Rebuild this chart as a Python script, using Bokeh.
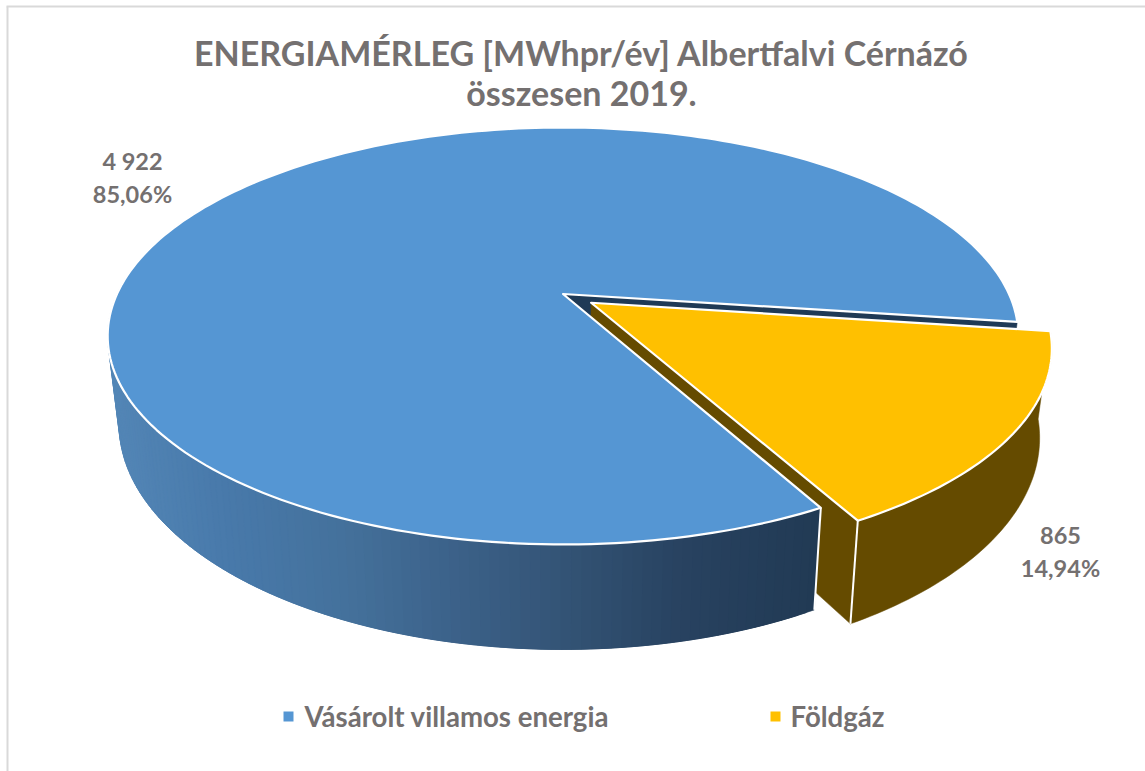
from math import sin, cos, radians
from bokeh.plotting import figure
from bokeh.models import Range1d
from bokeh.core.properties import value
from bokeh.embed import file_html
from bokeh.resources import INLINE

categories = ["Vásárolt villamos energia", "Földgáz"]
values = [4922, 865]
value_labels = ["4 922\n85,06%", "865\n14,94%"]
title_lines = ["ENERGIAMÉRLEG [MWhpr/év] Albertfalvi Cérnázó", "összesen 2019."]

BLUE, YELLOW = "#5596d3", "#ffc000"
OLIVE, NAVY = "#654b00", "#1f3a56"
SIDE_STOPS = [(107, (84, 135, 183)), (233, (72, 121, 170)), (350, (68, 113, 155)),
              (450, (60, 98, 138)), (560, (52, 84, 118)), (680, (40, 66, 96)),
              (815, (33, 58, 84))]
TEXT = "#747070"
FONT = value("Lato")

W, H = 1145, 771
p = figure(width=W, height=H, output_backend="svg", toolbar_location=None,
           x_range=Range1d(0, W), y_range=Range1d(H, 0),
           min_border=0, outline_line_color=None)
p.axis.visible = False
p.grid.visible = False

# perspective model of the pie disc
X0, Y0, A, B, K = 562.5, 293.5, 446.0, 200.0, 0.2014
SX, SY, Y1 = 0.975, 1.08, 378.5
START = 151.6
EXPLODE = 0.076


def proj(theta, r=1.0, off=(0.0, 0.0), bottom=False):
    u = r * sin(radians(theta)) + off[0]
    v = r * cos(radians(theta)) + off[1]
    d = 1 + K * v
    x, y = A * u / d, -B * v / d
    if bottom:
        return X0 + SX * x, Y1 + SY * y
    return X0 + x, Y0 + y


def arc(a0, a1, n, **kw):
    return [proj(a0 + (a1 - a0) * i / n, **kw) for i in range(n + 1)]


def shade(x):
    for (x0, c0), (x1, c1) in zip(SIDE_STOPS, SIDE_STOPS[1:]):
        if x <= x1:
            t = max(0.0, (x - x0) / (x1 - x0))
            return tuple(int(round(a + (b - a) * t)) for a, b in zip(c0, c1))
    return SIDE_STOPS[-1][1]


def poly(pts, fill, line=None, lw=2.0):
    p.patch([q[0] for q in pts], [q[1] for q in pts], fill_color=fill,
            line_color=line if line else fill, line_width=lw if line else 0.5,
            line_join="round")


def edge(a, b, color="white", lw=2.0):
    p.line([a[0], b[0]], [a[1], b[1]], line_color=color, line_width=lw)


total = sum(values)
span_blue = 360.0 * values[0] / total
a0 = START
a1 = START + span_blue          # end of the blue slice, clockwise
yel0, yel1 = a1 - 360.0, START
mid = (yel0 + yel1) / 2
off = (EXPLODE * sin(radians(mid)), EXPLODE * cos(radians(mid)))

# blue inner wall, seen through the gap
c_t, c_b = proj(0, r=0), proj(0, r=0, bottom=True)
end_t, end_b = proj(a1), proj(a1, bottom=True)
poly([c_t, end_t, end_b, c_b], NAVY)

# yellow rim and wall
ya, yb = arc(yel0, yel1, 60, off=off), arc(yel0, yel1, 60, off=off, bottom=True)
poly(ya + yb[::-1], OLIVE)
yc_t, yc_b = proj(0, r=0, off=off), proj(0, r=0, off=off, bottom=True)
corner_t, corner_b = proj(yel1, off=off), proj(yel1, off=off, bottom=True)
poly([yc_t, corner_t, corner_b, yc_b], OLIVE)
edge(corner_t, corner_b)

# blue rim, drawn as shaded strips; each strip runs under the next one to hide seams
n = 140
for i in range(n):
    t0 = a0 + (300 - a0) * i / n
    t1 = a0 + (300 - a0) * (i + 3) / n
    tm = a0 + (300 - a0) * (i + 0.5) / n
    q = [proj(t0), proj(t1), proj(t1, bottom=True), proj(t0, bottom=True)]
    r, g, b = shade(proj(tm, bottom=True)[0])
    poly(q, f"#{r:02x}{g:02x}{b:02x}")
edge(proj(a0), proj(a0, bottom=True))

# top faces
poly([c_t] + arc(a0, a1, 240), BLUE, "white", 2.2)
poly([yc_t] + ya, YELLOW, "white", 2.2)

# frame
p.line([7, 7], [6, 771], line_color="#d9d9d9", line_width=2)
p.line([6, 1145], [6, 6], line_color="#d9d9d9", line_width=2)


def txt(x, y, s, size, align="center"):
    p.text([x], [y], text=[s], text_font=FONT, text_font_style="bold",
           text_font_size=size, text_color=TEXT, text_align=align,
           text_baseline="middle")


txt(581, 51.5, title_lines[0], "34px")
txt(581, 92, title_lines[1], "34px")

for lab, (x, y0) in zip(value_labels, [(132, 160.5), (1060, 534.5)]):
    for i, s in enumerate(lab.split("\n")):
        txt(x, y0 + 33 * i, s, "23.5px")

# legend
for cat, col, mx, tx in zip(categories, [BLUE, YELLOW], [288, 775], [304, 790]):
    p.rect([mx], [716], width=10, height=10, fill_color=col, line_color=None)
    txt(tx, 716, cat, "27.6px", "left")

open("out.html", "w").write(file_html(p, INLINE))
